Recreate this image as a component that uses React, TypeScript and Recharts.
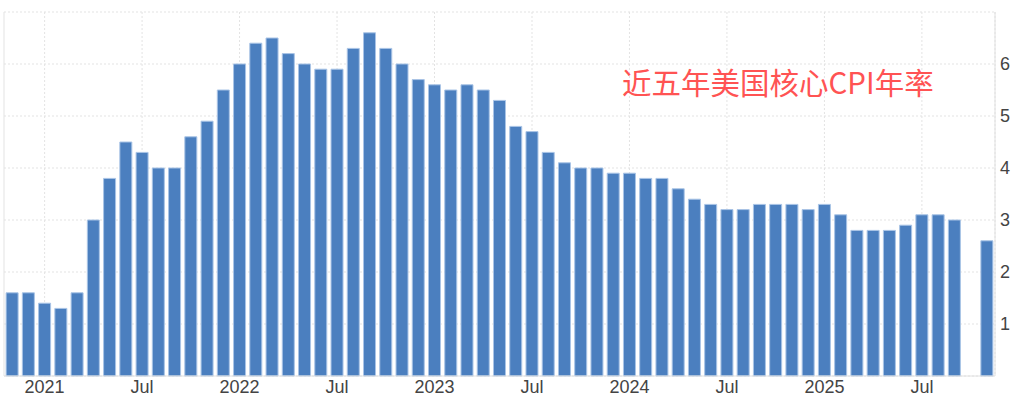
import { Bar, BarChart, CartesianGrid, ReferenceLine, XAxis, YAxis } from "recharts";

const months = [
  "2020-11", "2020-12",
  "2021-01", "2021-02", "2021-03", "2021-04", "2021-05", "2021-06",
  "2021-07", "2021-08", "2021-09", "2021-10", "2021-11", "2021-12",
  "2022-01", "2022-02", "2022-03", "2022-04", "2022-05", "2022-06",
  "2022-07", "2022-08", "2022-09", "2022-10", "2022-11", "2022-12",
  "2023-01", "2023-02", "2023-03", "2023-04", "2023-05", "2023-06",
  "2023-07", "2023-08", "2023-09", "2023-10", "2023-11", "2023-12",
  "2024-01", "2024-02", "2024-03", "2024-04", "2024-05", "2024-06",
  "2024-07", "2024-08", "2024-09", "2024-10", "2024-11", "2024-12",
  "2025-01", "2025-02", "2025-03", "2025-04", "2025-05", "2025-06",
  "2025-07", "2025-08", "2025-09", "2025-10", "2025-11",
];

// core CPI, YoY %
const coreCpi = [
  1.6, 1.6,
  1.4, 1.3, 1.6, 3.0, 3.8, 4.5, 4.3, 4.0, 4.0, 4.6, 4.9, 5.5,
  6.0, 6.4, 6.5, 6.2, 6.0, 5.9, 5.9, 6.3, 6.6, 6.3, 6.0, 5.7,
  5.6, 5.5, 5.6, 5.5, 5.3, 4.8, 4.7, 4.3, 4.1, 4.0, 4.0, 3.9,
  3.9, 3.8, 3.8, 3.6, 3.4, 3.3, 3.2, 3.2, 3.3, 3.3, 3.3, 3.2,
  3.3, 3.1, 2.8, 2.8, 2.8, 2.9, 3.1, 3.1, 3.0, null, 2.6,
];

const xTicks = [
  "2021-01", "2021-07", "2022-01", "2022-07", "2023-01",
  "2023-07", "2024-01", "2024-07", "2025-01", "2025-07",
];
const yTicks = [0, 1, 2, 3, 4, 5, 6, 7];

const data = months.map((m, i) => ({ month: m, value: coreCpi[i] }));

function monthLabel(m: string) {
  const [y, mm] = m.split("-");
  return mm === "01" ? y : "Jul";
}

const tickStyle = { fontSize: 18, fill: "#444", fontFamily: "'Liberation Sans', Arial, sans-serif" };

export default function App() {
  return (
    <div style={{ position: "absolute", left: 0, top: 0, width: 1024, height: 413, background: "#fff" }}>
      <BarChart
        width={1024}
        height={413}
        data={data}
        margin={{ top: 12, right: 0, left: 4, bottom: 0 }}
        barCategoryGap="13%"
      >
        <CartesianGrid stroke="#e3e3e3" strokeDasharray="2 2" />
        {/* dotted left border of the plot */}
        <ReferenceLine x={months[0]} position="start" stroke="#e3e3e3" strokeDasharray="2 2" />
        <XAxis
          dataKey="month"
          ticks={xTicks}
          interval={0}
          height={37}
          tickFormatter={monthLabel}
          tickLine={false}
          tickSize={2}
          tickMargin={2}
          axisLine={{ stroke: "#e0e0e0" }}
          tick={tickStyle}
        />
        <YAxis
          orientation="right"
          width={29}
          domain={[0, 7]}
          ticks={yTicks}
          interval={0}
          tickFormatter={(v) => (v === 0 || v === 7 ? "" : String(v))}
          tickLine={false}
          tickSize={3}
          tickMargin={2}
          axisLine={{ stroke: "#e0e0e0" }}
          tick={{ ...tickStyle, textAnchor: "start" }}
        />
        <Bar dataKey="value" fill="#4b7fbf" stroke="#a9c4e6" strokeWidth={1} isAnimationActive={false} />
      </BarChart>
      <div
        style={{
          position: "absolute",
          left: 622,
          top: 67,
          fontSize: 29.5,
          lineHeight: 1,
          color: "#ff5353",
          fontFamily: "'Noto Sans CJK SC', sans-serif",
          whiteSpace: "nowrap",
        }}
      >
        近五年美国核心CPI年率
      </div>
    </div>
  );
}
